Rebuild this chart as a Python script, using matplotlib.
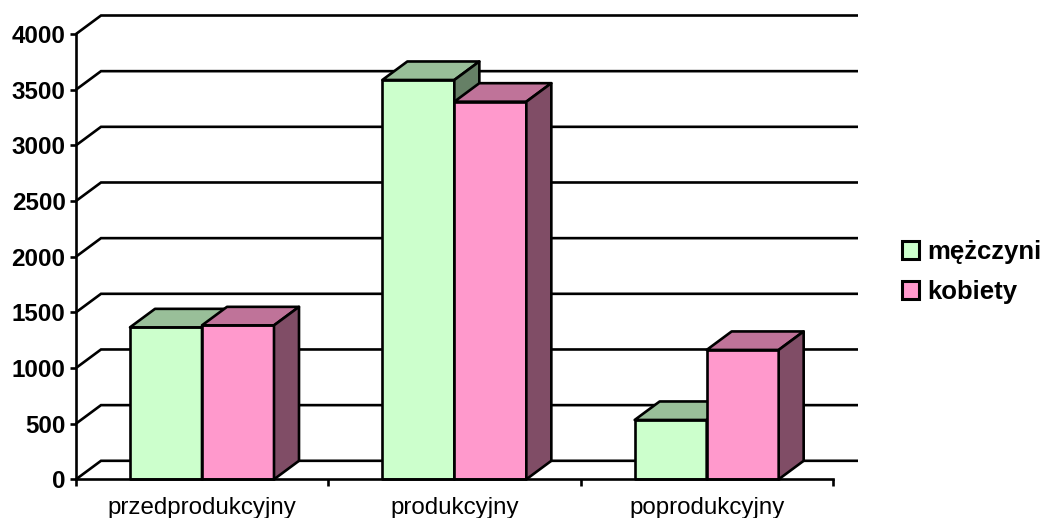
import matplotlib
matplotlib.use("Agg")
import matplotlib.pyplot as plt
from matplotlib.patches import Patch, Polygon

# dane
kategorie = ["przedprodukcyjny", "produkcyjny", "poprodukcyjny"]
mezczyzni = [1365, 3587, 533]
kobiety = [1383, 3392, 1162]
serie = ["mężczyni", "kobiety"]
ticks_y = [0, 500, 1000, 1500, 2000, 2500, 3000, 3500, 4000]

W, H = 1045, 518
plt.rcParams["font.family"] = ["Liberation Sans", "DejaVu Sans"]

fig = plt.figure(figsize=(W / 100, H / 100), dpi=100)
# obszar osi w pikselach: x 76-833, y 34-479
ax = fig.add_axes([76 / W, 1 - 479.3 / H, 757 / W, 445.3 / H])
ax.set_xlim(0, 3)
ax.set_ylim(0, 4000)

# glebokosc efektu 3D w jednostkach danych
dx = 25 / (757 / 3)
dy = 18.5 / (445.3 / 4000)
szer = 72 / (757 / 3)
start = 54 / (757 / 3)
lw = 1.9


def pudelko(x, v, front, top, side, z):
    ax.add_patch(Polygon([(x, 0), (x + szer, 0), (x + szer, v), (x, v)],
                         facecolor=front, edgecolor="black", lw=lw, zorder=z,
                         clip_on=False, joinstyle="round"))
    ax.add_patch(Polygon([(x, v), (x + szer, v), (x + szer + dx, v + dy), (x + dx, v + dy)],
                         facecolor=top, edgecolor="black", lw=lw, zorder=z,
                         clip_on=False, joinstyle="round"))
    ax.add_patch(Polygon([(x + szer, 0), (x + szer + dx, dy), (x + szer + dx, v + dy), (x + szer, v)],
                         facecolor=side, edgecolor="black", lw=lw, zorder=z,
                         clip_on=False, joinstyle="round"))


# linie siatki na tylnej scianie i skosy na bocznej
for t in ticks_y:
    ax.plot([0, dx, 3 + dx], [t, t + dy, t + dy], color="black", lw=lw,
            clip_on=False, zorder=1, solid_joinstyle="miter", solid_capstyle="butt")

for i in range(len(kategorie)):
    pudelko(i + start, mezczyzni[i], "#CCFFCC", "#99BF99", "#668066", 2 + i)
    pudelko(i + start + szer, kobiety[i], "#FF99CC", "#BF7399", "#804D66", 2.5 + i)

for s in ["top", "right"]:
    ax.spines[s].set_visible(False)
for s in ["left", "bottom"]:
    ax.spines[s].set_linewidth(lw)
    ax.spines[s].set_zorder(10)

ax.set_yticks(ticks_y)
ax.set_yticklabels([str(t) for t in ticks_y], fontsize=17.4, fontweight="bold")
ax.tick_params(axis="y", length=4.5, width=lw, pad=3)
ax.set_xticks([0, 1, 2, 3])
ax.set_xticklabels([])
ax.tick_params(axis="x", length=5, width=lw)
for i, nazwa in enumerate(kategorie):
    ax.annotate(nazwa, (i + 0.5, 0), xytext=(0, -29), textcoords="offset pixels",
                ha="center", va="center", fontsize=17.4)

uchwyty = [Patch(facecolor="#CCFFCC", edgecolor="black", lw=2.2),
           Patch(facecolor="#FF99CC", edgecolor="black", lw=2.2)]
fig.legend(uchwyty, serie, loc="upper left", bbox_to_anchor=(902 / W, 1 - 240 / H),
           frameon=False, prop={"weight": "bold", "size": 18.5},
           handlelength=0.66, handleheight=0.66, handletextpad=0.33,
           labelspacing=0.62, borderpad=0, borderaxespad=0)

fig.savefig("out.png", dpi=100)
